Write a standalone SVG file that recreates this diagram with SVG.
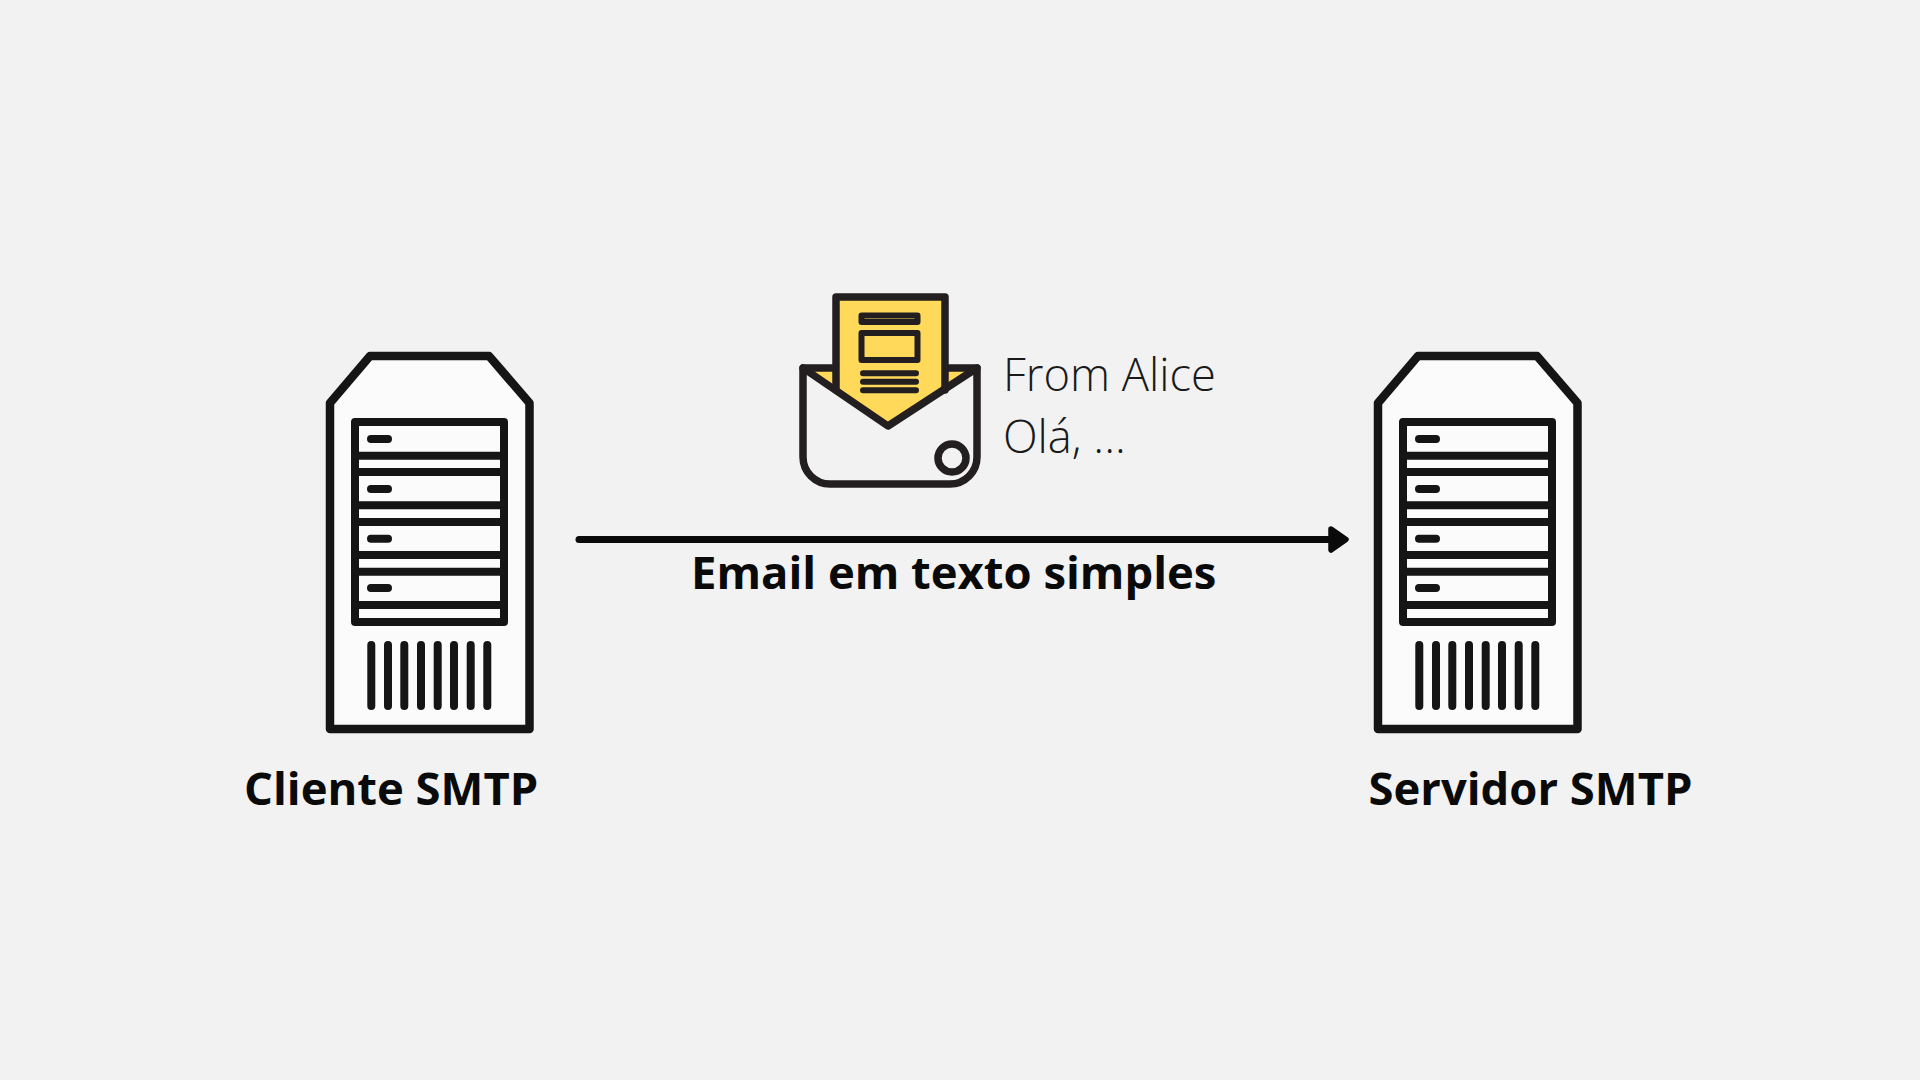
<svg xmlns="http://www.w3.org/2000/svg" xmlns:xlink="http://www.w3.org/1999/xlink" width="1920" height="1080" viewBox="0 0 1920 1080">
<style>
.k{fill:none;stroke:#151515;stroke-width:8;stroke-linejoin:round;stroke-linecap:round}
.b{stroke-linecap:butt}
.e{fill:none;stroke:#231f20;stroke-width:7.5;stroke-linejoin:round;stroke-linecap:round}
.t{stroke-width:6}
.lab{font-family:"Open Sans","Liberation Sans",sans-serif;font-weight:700;font-size:45.4px;fill:#0a0a0a}
.msg{font-family:"Open Sans","Liberation Sans",sans-serif;font-weight:300;font-size:45.3px;fill:#1a1a1a}
</style>
<defs>
<g id="srv">
<path d="M330 403L370 356H489L529.5 403V729H330Z" fill="#fbfbfb" stroke="#151515" stroke-width="8.5" stroke-linejoin="round"/>
<rect x="355" y="422" width="149" height="200" class="k"/>
<path class="k b" d="M355 455.7H504M355 472H504M355 505.3H504M355 522H504M355 555H504M355 571.7H504M355 605H504"/>
<path class="k" d="M371 439H388M371 489H388M371 538.7H388M371 588H388"/>
<path class="k" d="M371.3 645V706M388 645V706M404.3 645V706M421 645V706M437.7 645V706M454 645V706M470.7 645V706M487.3 645V706"/>
</g>
</defs>
<rect width="1920" height="1080" fill="#f2f2f2"/>
<g id="cliente"><use xlink:href="#srv" href="#srv"/><text class="lab" x="244" y="805">Cliente SMTP</text></g>
<g id="servidor"><use xlink:href="#srv" href="#srv" x="1048"/><text class="lab" x="1368.5" y="805">Servidor SMTP</text></g>
<g id="email">
<path d="M803 368H977L888 426Z" fill="#ffd95a"/>
<path d="M803 368V457a27 27 0 0 0 27 27H950a27 27 0 0 0 27-27V368L888 426Z" fill="#f2f2f2"/>
<path d="M836 297H945V368L888 426L836 392Z" fill="#ffd95a"/>
<path class="e b" d="M836 390V297H945V390M836 368H803M945 368H977"/>
<path class="e" d="M803 368V457a27 27 0 0 0 27 27H950a27 27 0 0 0 27-27V368L888 426Z"/>
<rect x="861.5" y="315.5" width="56" height="6.5" class="e t"/>
<rect x="861.5" y="333" width="56" height="27" class="e t"/>
<path class="e t" d="M863 373.3H916M863 381.7H916M863 390.3H916"/>
<circle cx="952" cy="458" r="14" class="e"/>
<text class="msg" x="1003" y="391">From Alice</text>
<text class="msg" x="1003" y="453">Olá, ...</text>
</g>
<g id="connectors">
<path d="M579 539.5H1332" stroke="#0a0a0a" stroke-width="7" stroke-linecap="round" fill="none"/>
<path d="M1331 529L1346 539.5L1331 550Z" fill="#0a0a0a" stroke="#0a0a0a" stroke-width="5.5" stroke-linejoin="round"/>
</g>
<text class="lab" id="connector-label" x="691" y="589">Email em texto simples</text>
</svg>
